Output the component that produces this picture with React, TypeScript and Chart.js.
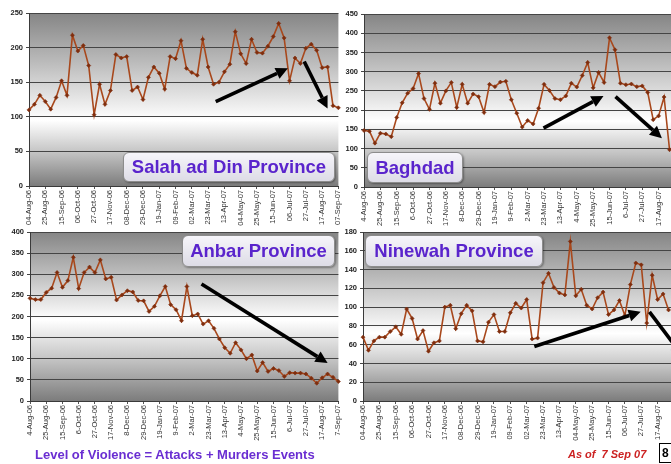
import React, { useEffect, useRef } from 'react';
import { Chart, registerables } from 'chart.js';

Chart.register(...registerables);

// ---------- data ----------
const WEEK_COUNT = 58; // weekly from 4 Aug 2006 to 7 Sep 2007
const MONTHS = ['Jan', 'Feb', 'Mar', 'Apr', 'May', 'Jun', 'Jul', 'Aug', 'Sep', 'Oct', 'Nov', 'Dec'];

const TICKS_PADDED = ['04-Aug-06', '25-Aug-06', '15-Sep-06', '06-Oct-06', '27-Oct-06', '17-Nov-06', '08-Dec-06', '29-Dec-06', '19-Jan-07', '09-Feb-07', '02-Mar-07', '23-Mar-07', '13-Apr-07', '04-May-07', '25-May-07', '15-Jun-07', '06-Jul-07', '27-Jul-07', '17-Aug-07', '07-Sep-07'];
const TICKS_PLAIN = ['4-Aug-06', '25-Aug-06', '15-Sep-06', '6-Oct-06', '27-Oct-06', '17-Nov-06', '8-Dec-06', '29-Dec-06', '19-Jan-07', '9-Feb-07', '2-Mar-07', '23-Mar-07', '13-Apr-07', '4-May-07', '25-May-07', '15-Jun-07', '6-Jul-07', '27-Jul-07', '17-Aug-07', '7-Sep-07'];

const SALAH = [110, 118, 131, 122, 111, 128, 152, 131, 218, 195, 203, 174, 103, 147, 118, 138, 190, 185, 187, 138, 143, 125, 157, 172, 163, 140, 187, 184, 210, 170, 164, 160, 212, 172, 147, 150, 165, 176, 223, 191, 177, 212, 193, 192, 202, 216, 235, 214, 152, 185, 177, 199, 205, 196, 171, 172, 116, 113];
const BAGHDAD = [147, 145, 114, 140, 138, 131, 181, 219, 244, 256, 295, 230, 202, 270, 218, 250, 272, 207, 267, 218, 242, 235, 194, 267, 261, 273, 275, 227, 192, 156, 173, 164, 205, 267, 251, 230, 227, 237, 270, 260, 290, 324, 258, 298, 272, 388, 357, 270, 266, 268, 261, 263, 246, 175, 185, 234, 97];
const ANBAR = [243, 240, 240, 257, 267, 304, 269, 285, 340, 266, 304, 317, 304, 334, 289, 293, 239, 251, 261, 258, 238, 237, 212, 224, 249, 271, 228, 216, 190, 271, 202, 206, 182, 190, 172, 147, 126, 113, 138, 121, 100, 109, 71, 91, 70, 77, 72, 58, 67, 66, 66, 64, 54, 42, 55, 64, 56, 46];
const NINEWAH = [68, 54, 64, 68, 68, 74, 79, 71, 98, 88, 66, 75, 53, 62, 64, 100, 102, 77, 93, 102, 96, 64, 63, 84, 92, 74, 74, 94, 104, 99, 108, 66, 67, 126, 136, 121, 115, 113, 170, 112, 119, 102, 98, 110, 116, 92, 97, 107, 91, 124, 147, 145, 83, 134, 108, 114, 97];

// arrows in data coordinates: [fromIndex, fromValue, toIndex, toValue]
const SALAH_ARROWS = [[34.4, 122, 47.7, 170], [50.7, 180, 55.0, 112]];
const BAGHDAD_ARROWS = [[32.9, 153, 43.9, 237], [46.1, 235, 54.6, 127]];
const ANBAR_ARROWS = [[31.7, 277, 55.0, 90]];
const NINEWAH_ARROWS = [[31.4, 58, 50.9, 95], [52.5, 95, 58.6, 48]];

function weekLabels(): string[] {
  const out: string[] = [];
  for (let i = 0; i < WEEK_COUNT; i++) {
    const d = new Date(2006, 7, 4 + i * 7);
    out.push(`${d.getDate()}-${MONTHS[d.getMonth()]}-${String(d.getFullYear()).slice(2)}`);
  }
  return out;
}
const WEEKS = weekLabels();

// ---------- styles ----------
const LINE = '#a8481c';
const MARK = '#7f2e0e';
const FONT = '"Liberation Sans", Arial, sans-serif';

type PanelDef = {
  values: number[];
  ticks: string[];
  max: number;
  step: number;
  arrows: number[][];
  left: number; top: number; width: number; height: number;
  padTop: number; padRight: number; yWidth: number; xHeight: number;
  bright: number;
};

const PANELS: PanelDef[] = [
  { values: SALAH, ticks: TICKS_PADDED, max: 250, step: 50, arrows: SALAH_ARROWS, left: 0, top: 0, width: 343, height: 232, padTop: 13, padRight: 4, yWidth: 29, xHeight: 46, bright: 0.62 },
  { values: BAGHDAD, ticks: TICKS_PLAIN, max: 450, step: 50, arrows: BAGHDAD_ARROWS, left: 333, top: 0, width: 347, height: 232, padTop: 14, padRight: 5, yWidth: 31, xHeight: 45, bright: 0.62 },
  { values: ANBAR, ticks: TICKS_PLAIN, max: 400, step: 50, arrows: ANBAR_ARROWS, left: 0, top: 226, width: 343, height: 228, padTop: 6, padRight: 4, yWidth: 30, xHeight: 53, bright: 0.52 },
  { values: NINEWAH, ticks: TICKS_PADDED, max: 180, step: 20, arrows: NINEWAH_ARROWS, left: 333, top: 226, width: 347, height: 228, padTop: 6, padRight: 6, yWidth: 30, xHeight: 53, bright: 0.6 },
];

function drawArrow(ctx: CanvasRenderingContext2D, x0: number, y0: number, x1: number, y1: number) {
  const head = 12, hw = 6;
  const ang = Math.atan2(y1 - y0, x1 - x0);
  const bx = x1 - head * Math.cos(ang);
  const by = y1 - head * Math.sin(ang);
  ctx.beginPath();
  ctx.moveTo(x0, y0);
  ctx.lineTo(bx, by);
  ctx.lineWidth = 3.6;
  ctx.strokeStyle = '#000';
  ctx.lineCap = 'butt';
  ctx.stroke();
  ctx.beginPath();
  ctx.moveTo(x1, y1);
  ctx.lineTo(bx + hw * Math.sin(ang), by - hw * Math.cos(ang));
  ctx.lineTo(bx - hw * Math.sin(ang), by + hw * Math.cos(ang));
  ctx.closePath();
  ctx.fillStyle = '#000';
  ctx.fill();
}

function makeConfig(p: PanelDef): any {
  const bgPlugin = {
    id: 'panelBg',
    beforeDraw(chart: any) {
      const { ctx, chartArea: a } = chart;
      const g = ctx.createLinearGradient(0, a.top, 0, a.bottom);
      g.addColorStop(0, '#858585');
      g.addColorStop(p.bright * 0.45, '#bababa');
      g.addColorStop(p.bright, '#ffffff');
      g.addColorStop(p.bright + (1 - p.bright) * 0.5, '#c2c2c2');
      g.addColorStop(1, '#7c7c7c');
      ctx.save();
      ctx.fillStyle = g;
      ctx.fillRect(a.left, a.top, a.right - a.left, a.bottom - a.top);
      ctx.restore();
    },
  };
  const arrowPlugin = {
    id: 'panelArrows',
    afterDatasetsDraw(chart: any) {
      const { ctx, scales } = chart;
      ctx.save();
      for (const [i0, v0, i1, v1] of p.arrows) {
        drawArrow(ctx, scales.x.getPixelForValue(i0), scales.y.getPixelForValue(v0), scales.x.getPixelForValue(i1), scales.y.getPixelForValue(v1));
      }
      ctx.restore();
    },
  };
  return {
    type: 'line',
    data: {
      labels: WEEKS,
      datasets: [{
        data: p.values,
        borderColor: LINE,
        borderWidth: 1.6,
        pointStyle: 'rectRot',
        pointRadius: 2,
        pointBackgroundColor: MARK,
        pointBorderColor: MARK,
        pointBorderWidth: 0.6,
        tension: 0,
        clip: false,
      }],
    },
    options: {
      responsive: false,
      animation: false,
      devicePixelRatio: 1,
      events: [],
      layout: { padding: { top: p.padTop, right: p.padRight, left: 0, bottom: 0 } },
      plugins: { legend: { display: false }, tooltip: { enabled: false } },
      scales: {
        x: {
          type: 'category',
          offset: false,
          border: { color: '#3a3a3a', width: 1 },
          grid: {
            drawOnChartArea: false,
            tickLength: 3,
            color: (c: any) => (c.index % 3 === 0 ? '#555' : 'rgba(0,0,0,0)'),
          },
          ticks: {
            autoSkip: false,
            minRotation: 90,
            maxRotation: 90,
            padding: 1,
            color: '#333',
            font: { family: FONT, size: 7.5 },
            callback: (_v: any, i: number) => (i % 3 === 0 ? p.ticks[i / 3] : ''),
          },
          afterFit: (s: any) => { s.height = p.xHeight; s.paddingLeft = 0; s.paddingRight = 0; },
        },
        y: {
          min: 0,
          max: p.max,
          border: { color: '#3a3a3a', width: 1 },
          grid: { color: '#454545', lineWidth: 1, tickLength: 3 },
          ticks: {
            stepSize: p.step,
            padding: 3,
            color: '#222',
            font: { family: FONT, size: 7.5, weight: 'bold' },
          },
          afterFit: (s: any) => { s.width = p.yWidth; s.paddingTop = 0; s.paddingBottom = 0; },
        },
      },
    },
    plugins: [bgPlugin, arrowPlugin],
  };
}

function Panel({ p }: { p: PanelDef }) {
  const ref = useRef<HTMLCanvasElement>(null);
  useEffect(() => {
    if (!ref.current) return;
    const chart = new Chart(ref.current, makeConfig(p));
    return () => chart.destroy();
  }, [p]);
  return (
    <canvas
      ref={ref}
      width={p.width}
      height={p.height}
      style={{ position: 'absolute', left: p.left, top: p.top, width: p.width, height: p.height }}
    />
  );
}

const boxStyle = (left: number, top: number, width: number, height: number): React.CSSProperties => ({
  position: 'absolute',
  left, top, width, height,
  boxSizing: 'border-box',
  border: '1px solid #8c8c8c',
  borderRadius: 6,
  background: 'linear-gradient(#f6f5fa, #dddce6)',
  boxShadow: '1px 1px 2px rgba(0,0,0,0.35)',
  display: 'flex',
  alignItems: 'center',
  justifyContent: 'center',
  fontFamily: FONT,
  fontWeight: 'bold',
  fontSize: 18.5,
  color: '#5a24cc',
  whiteSpace: 'nowrap',
});

export default function App() {
  return (
    <div style={{ position: 'fixed', left: 0, top: 0, width: 671, height: 464, overflow: 'hidden', background: '#fff' }}>
      {PANELS.map((p, i) => <Panel key={i} p={p} />)}
      <div style={boxStyle(123, 152, 212, 30)}>Salah ad Din Province</div>
      <div style={boxStyle(367, 152, 96, 31)}>Baghdad</div>
      <div style={boxStyle(182, 235, 153, 32)}>Anbar Province</div>
      <div style={boxStyle(365, 235, 178, 32)}>Ninewah Province</div>
      <div style={{ position: 'absolute', left: 35, top: 447, fontFamily: FONT, fontWeight: 'bold', fontSize: 13, color: '#6a2ed2', whiteSpace: 'nowrap' }}>
        Level of Violence = Attacks + Murders Events
      </div>
      <div style={{ position: 'absolute', left: 568, top: 448, fontFamily: FONT, fontWeight: 'bold', fontStyle: 'italic', fontSize: 11, color: '#cc2222', whiteSpace: 'pre' }}>
        {'As of  7 Sep 07'}
      </div>
      <div style={{ position: 'absolute', left: 659, top: 443, width: 16, height: 20, boxSizing: 'border-box', border: '1px solid #000', background: '#fff', fontFamily: FONT, fontWeight: 'bold', fontSize: 12, lineHeight: '18px', paddingLeft: 2, color: '#000' }}>
        8
      </div>
    </div>
  );
}
